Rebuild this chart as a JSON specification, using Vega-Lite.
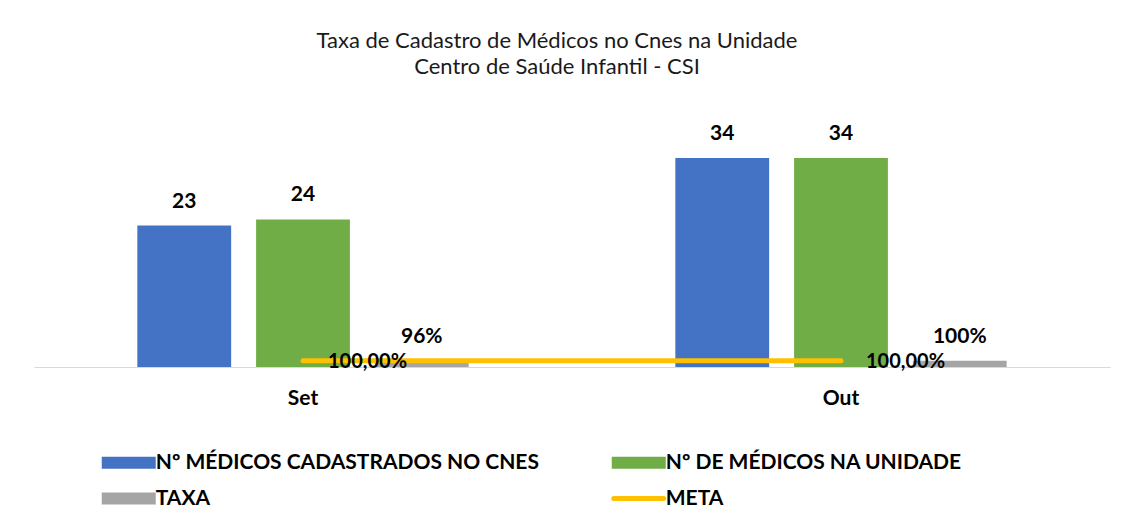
{
  "$schema": "https://vega.github.io/schema/vega-lite/v6.json",
  "autosize": {"type": "none"},
  "width": 1076,
  "height": 246,
  "padding": {"left": 34, "top": 121, "right": 22, "bottom": 156},
  "background": "white",
  "title": {
    "text": ["Taxa de Cadastro de Médicos no Cnes na Unidade", "Centro de Saúde Infantil - CSI"],
    "font": "Lato",
    "fontSize": 22,
    "fontWeight": "normal",
    "color": "#1a1a1a",
    "lineHeight": 26,
    "anchor": "middle",
    "dx": -15,
    "offset": 42
  },
  "data": {
    "values": [
      {"mes": "Set", "serie": "Nº MÉDICOS CADASTRADOS NO CNES", "valor": 23, "rotulo": "23"},
      {"mes": "Set", "serie": "Nº DE MÉDICOS NA UNIDADE", "valor": 24, "rotulo": "24"},
      {"mes": "Set", "serie": "TAXA", "valor": 0.96, "rotulo": "96%"},
      {"mes": "Set", "serie": "META", "valor": 1, "rotulo": "100,00%"},
      {"mes": "Out", "serie": "Nº MÉDICOS CADASTRADOS NO CNES", "valor": 34, "rotulo": "34"},
      {"mes": "Out", "serie": "Nº DE MÉDICOS NA UNIDADE", "valor": 34, "rotulo": "34"},
      {"mes": "Out", "serie": "TAXA", "valor": 1, "rotulo": "100%"},
      {"mes": "Out", "serie": "META", "valor": 1, "rotulo": "100,00%"}
    ]
  },
  "encoding": {
    "x": {
      "field": "mes", "type": "nominal", "sort": ["Set", "Out"],
      "scale": {"paddingInner": 0, "paddingOuter": 0},
      "axis": {
        "title": null, "labelAngle": 0, "ticks": false, "labelPadding": 20,
        "labelFont": "Lato", "labelFontSize": 21, "labelFontWeight": "bold", "labelColor": "#000000",
        "domainColor": "#D9D9D9", "domainWidth": 1
      }
    },
    "y": {
      "field": "valor", "type": "quantitative",
      "scale": {"domain": [0, 40]},
      "axis": null
    }
  },
  "layer": [
    {
      "transform": [{"filter": "datum.serie !== 'META'"}],
      "mark": {"type": "bar"},
      "encoding": {
        "xOffset": {
          "field": "serie", "type": "nominal",
          "sort": ["Nº MÉDICOS CADASTRADOS NO CNES", "Nº DE MÉDICOS NA UNIDADE", "TAXA"],
          "scale": {"paddingInner": 0.21, "paddingOuter": 0.87}
        },
        "color": {
          "field": "serie", "type": "nominal",
          "scale": {
            "domain": ["Nº MÉDICOS CADASTRADOS NO CNES", "Nº DE MÉDICOS NA UNIDADE", "TAXA", "META"],
            "range": ["#4472C4", "#70AD47", "#A5A5A5", "#FFC000"]
          },
          "legend": {
            "title": null,
            "orient": "none",
            "direction": "horizontal",
            "legendX": 64,
            "legendY": 331,
            "columns": 2,
            "columnPadding": 64,
            "rowPadding": 14,
            "symbolSize": 182.25,
            "symbolOffset": 20.25,
            "labelOffset": 16.5,
            "labelFont": "Lato",
            "labelFontSize": 21,
            "labelFontWeight": "bold",
            "labelColor": "#000000",
            "labelLimit": 600,
            "encode": {
              "symbols": {
                "update": {
                  "shape": {"signal": "datum.value === 'META' ? 'M-3.7,0H3.7' : 'M-4,-0.9H4V0.9H-4Z'"},
                  "fill": {"signal": "datum.value === 'META' ? 'transparent' : scale('color', datum.value)"},
                  "stroke": {"signal": "scale('color', datum.value)"},
                  "strokeWidth": {"signal": "datum.value === 'META' ? 5 : 0"},
                  "strokeCap": {"value": "round"},
                  "opacity": {"value": 1},
                  "fillOpacity": {"value": 1},
                  "strokeOpacity": {"value": 1}
                }
              }
            }
          }
        }
      }
    },
    {
      "transform": [{"filter": "datum.serie !== 'META'"}],
      "mark": {"type": "text", "font": "Lato", "fontSize": 21, "fontWeight": "bold", "color": "#000000", "baseline": "alphabetic", "dy": -18},
      "encoding": {
        "xOffset": {
          "field": "serie", "type": "nominal",
          "sort": ["Nº MÉDICOS CADASTRADOS NO CNES", "Nº DE MÉDICOS NA UNIDADE", "TAXA"],
          "scale": {"paddingInner": 0.21, "paddingOuter": 0.87}
        },
        "text": {"field": "rotulo"}
      }
    },
    {
      "transform": [{"filter": "datum.serie === 'META'"}],
      "mark": {"type": "line", "strokeWidth": 5, "strokeCap": "round"},
      "encoding": {
        "color": {"field": "serie", "type": "nominal"}
      }
    },
    {
      "transform": [{"filter": "datum.serie === 'META'"}],
      "mark": {"type": "text", "font": "Lato", "fontSize": 20, "fontWeight": "bold", "color": "#000000", "align": "left", "baseline": "middle", "dx": 25, "dy": 1},
      "encoding": {
        "text": {"field": "rotulo"}
      }
    }
  ],
  "config": {
    "view": {"stroke": null}
  }
}
